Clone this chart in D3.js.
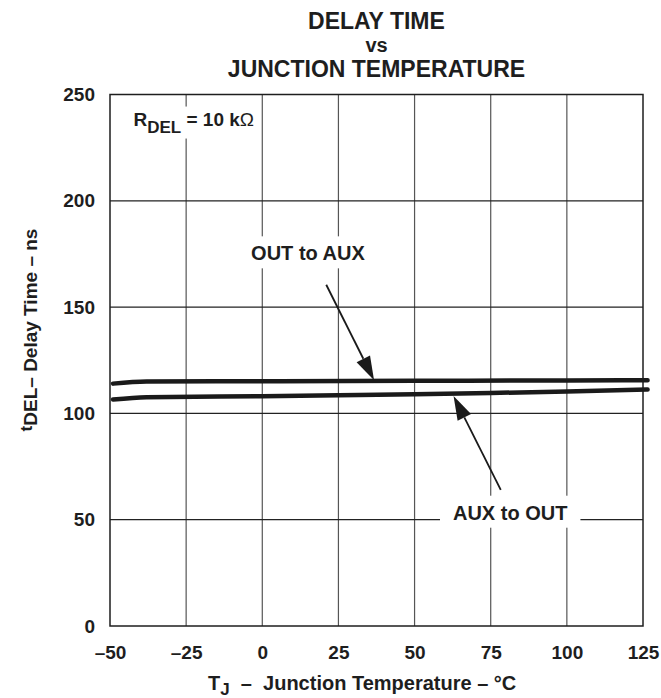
<!DOCTYPE html>
<html>
<head>
<meta charset="utf-8">
<script src="https://cdn.jsdelivr.net/npm/d3@7"></script>
<style>
  body { margin: 0; background: #fff; }
  text { font-family: "Liberation Sans", Arial, Helvetica, sans-serif; font-weight: bold; fill: #1e1e1e; }
</style>
</head>
<body>
<script>
// tick values
const xTicks = [-50, -25, 0, 25, 50, 75, 100, 125];
const yTicks = [0, 50, 100, 150, 200, 250];

// series (T in °C, delay in ns)
const tempOutToAux = [-49, -38, 0, 50, 100, 126.5];
const delayOutToAux = [114, 115, 115.1, 115.3, 115.5, 115.6];
const tempAuxToOut = [-49, -38, 0, 25, 50, 75, 100, 126.5];
const delayAuxToOut = [106.5, 107.6, 108.1, 108.5, 109, 109.6, 110.3, 111.2];

// annotations in data units
const labels = [
  {text: "OUT to AUX", x: 15, y: 172, tail: [21, 160.5], tip: [36.7, 115.6]},
  {text: "AUX to OUT", x: 81.4, y: 50, tail: [78.3, 64], tip: [62.8, 108.2]}
];

const W = 661, H = 698;
const margin = {top: 94.5, right: 18, bottom: 72, left: 110};

const svg = d3.select("body").append("svg")
    .attr("width", W)
    .attr("height", H);

const x = d3.scaleLinear().domain([-50, 125]).range([margin.left, W - margin.right]);
const y = d3.scaleLinear().domain([0, 250]).range([H - margin.bottom, margin.top]);

// title
[["DELAY TIME", 29, 23], ["vs", 52, 20], ["JUNCTION TEMPERATURE", 77, 23]].forEach(t => {
  svg.append("text")
    .attr("x", (x(-50) + x(125)) / 2)
    .attr("y", t[1])
    .attr("text-anchor", "middle")
    .style("font-size", t[2] + "px")
    .text(t[0]);
});

// grid
svg.append("g").selectAll("line")
  .data(xTicks.slice(1, -1))
  .join("line")
    .attr("x1", d => x(d)).attr("x2", d => x(d))
    .attr("y1", y(0)).attr("y2", y(250))
    .attr("stroke", "#555").attr("stroke-width", 1.2);
svg.append("g").selectAll("line")
  .data(yTicks.slice(1, -1))
  .join("line")
    .attr("y1", d => y(d)).attr("y2", d => y(d))
    .attr("x1", x(-50)).attr("x2", x(125))
    .attr("stroke", "#222").attr("stroke-width", 1.2);

// layer for white boxes that knock out the grid behind annotation text
const knock = svg.append("g");

// axes (labels only, box drawn separately)
const xAxis = svg.append("g")
    .attr("transform", "translate(0," + y(0) + ")")
    .call(d3.axisBottom(x).tickValues(xTicks).tickSize(0).tickPadding(20)
      .tickFormat(d => d < 0 ? "\u2013" + Math.abs(d) : d));
xAxis.select(".domain").remove();
xAxis.selectAll("text").style("font-size", "19px").attr("fill", "#1e1e1e");

const yAxis = svg.append("g")
    .attr("transform", "translate(" + x(-50) + ",0)")
    .call(d3.axisLeft(y).tickValues(yTicks).tickSize(0).tickPadding(15));
yAxis.select(".domain").remove();
yAxis.selectAll("text").style("font-size", "19px").attr("fill", "#1e1e1e");

const rdel = svg.append("text")
    .attr("x", x(-42.3)).attr("y", y(235.4))
    .style("font-size", "19px");
rdel.append("tspan").text("R");
rdel.append("tspan").attr("dy", 7).style("font-size", "17px").text("DEL");
rdel.append("tspan").attr("dy", -7).text(" = 10 k");
rdel.append("tspan").style("font-weight", "normal").text("\u03A9");
{
  const b = rdel.node().getBBox();
  knock.append("rect")
    .attr("x", b.x - 14).attr("y", b.y - 2)
    .attr("width", b.width + 20).attr("height", b.height + 4)
    .attr("fill", "#fff");
}

labels.forEach(l => {
  const t = svg.append("text")
    .attr("x", x(l.x)).attr("y", y(l.y))
    .attr("text-anchor", "middle")
    .style("font-size", "20px")
    .text(l.text);
  const b = t.node().getBBox();
  knock.append("rect")
    .attr("x", b.x - 13).attr("y", b.y - 6)
    .attr("width", b.width + 26).attr("height", b.height + 10)
    .attr("fill", "#fff");
});

// plot frame
svg.append("rect")
    .attr("x", x(-50)).attr("y", y(250))
    .attr("width", x(125) - x(-50)).attr("height", y(0) - y(250))
    .attr("fill", "none").attr("stroke", "#1e1e1e").attr("stroke-width", 1.5);

// curves
const line = d3.line().x(d => x(d[0])).y(d => y(d[1])).curve(d3.curveMonotoneX);
[[tempOutToAux, delayOutToAux], [tempAuxToOut, delayAuxToOut]].forEach(s => {
  svg.append("path")
    .datum(s[0].map((t, i) => [t, s[1][i]]))
    .attr("d", line)
    .attr("fill", "none")
    .attr("stroke", "#1a1a1a")
    .attr("stroke-width", 4.5)
    .attr("stroke-linecap", "round");
});

// arrows
labels.forEach(l => {
  const x0 = x(l.tail[0]), y0 = y(l.tail[1]), x1 = x(l.tip[0]), y1 = y(l.tip[1]);
  const len = Math.hypot(x1 - x0, y1 - y0), ux = (x1 - x0) / len, uy = (y1 - y0) / len;
  const hl = 24, hw = 7.5;
  const bx = x1 - ux * hl, by = y1 - uy * hl;
  svg.append("line")
    .attr("x1", x0).attr("y1", y0).attr("x2", bx).attr("y2", by)
    .attr("stroke", "#1a1a1a").attr("stroke-width", 1.8);
  svg.append("path")
    .attr("d", "M" + x1 + "," + y1 + "L" + (bx - uy * hw) + "," + (by + ux * hw) +
      "L" + (bx + uy * hw) + "," + (by - ux * hw) + "Z")
    .attr("fill", "#1a1a1a");
});

// axis titles
const xt = svg.append("text")
    .attr("x", 208).attr("y", 690)
    .style("font-size", "20px");
xt.append("tspan").text("T");
xt.append("tspan").attr("dy", 5).style("font-size", "17px").text("J");
xt.append("tspan").attr("dy", -5).attr("xml:space", "preserve").text("  \u2013  Junction Temperature \u2013 \u00B0C");

const yt = svg.append("text")
    .attr("transform", "translate(37,330) rotate(-90)")
    .attr("text-anchor", "middle")
    .style("font-size", "19px");
yt.append("tspan").attr("dy", -5).style("font-size", "17px").text("t");
yt.append("tspan").attr("dy", 5).text("DEL");
yt.append("tspan").text("\u2013 Delay Time \u2013 ns");
</script>
</body>
</html>
